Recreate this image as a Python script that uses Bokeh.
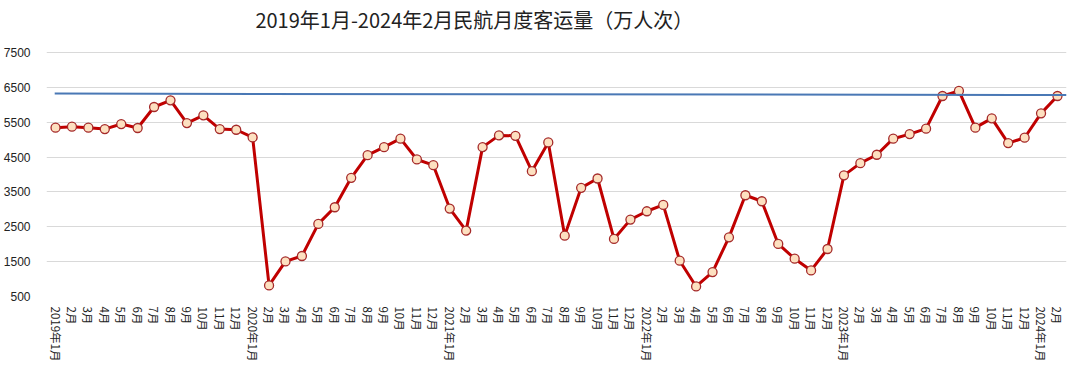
from bokeh.plotting import figure
from bokeh.models import FixedTicker, Range1d, Label, ColumnDataSource
from bokeh.embed import file_html
from bokeh.resources import INLINE

title_text = "2019年1月-2024年2月民航月度客运量（万人次）"

years = [2019, 2020, 2021, 2022, 2023, 2024]
months = []
for y in years:
    for m in range(1, 13):
        if y == 2024 and m > 2:
            break
        months.append("%d年%d月" % (y, m) if m == 1 else "%d月" % m)

passengers = [
    5343, 5372, 5343, 5303, 5447, 5334, 5936, 6128, 5475, 5697, 5303, 5284,
    5064, 817, 1507, 1662, 2582, 3060, 3905, 4555, 4785, 5027, 4431, 4267,
    3022, 2389, 4785, 5122, 5110, 4095, 4920, 2246, 3617, 3885, 2151, 2706,
    2945, 3128, 1527, 788, 1202, 2197, 3405, 3232, 2007, 1584, 1248, 1863,
    3975, 4326, 4566, 5027, 5159, 5314, 6252, 6396, 5343, 5610, 4900, 5055,
    5754, 6252,
]

ref_level_start = 6320
ref_level_end = 6280

y_ticks = [500, 1500, 2500, 3500, 4500, 5500, 6500, 7500]

idx = list(range(len(months)))
src = ColumnDataSource(dict(x=idx, y=passengers))

# frame extends above the top gridline so the title can sit inside it
p = figure(width=1072, height=368, output_backend="svg", toolbar_location=None,
           x_range=Range1d(-0.55, len(months) - 1 + 0.55),
           y_range=Range1d(500, 8934),
           min_border_left=44, min_border_right=6, min_border_top=2,
           min_border_bottom=72)
p.outline_line_color = None
p.background_fill_color = "white"
p.border_fill_color = "white"

p.add_layout(Label(x=25.5, y=8447, text=title_text, text_align="center",
                   text_baseline="middle", text_font="Noto Sans CJK SC",
                   text_font_size="20px", text_color="#222222"))

p.xgrid.grid_line_color = None
p.ygrid.grid_line_color = "#D9D9D9"
p.ygrid.grid_line_width = 1.2
p.yaxis.ticker = FixedTicker(ticks=y_ticks)
p.xaxis.ticker = FixedTicker(ticks=idx)
p.xaxis.major_label_overrides = {i: lab for i, lab in enumerate(months)}
p.xaxis.major_label_orientation = "vertical"
p.xaxis.major_label_text_font = "Noto Sans CJK SC"
p.xaxis.major_label_text_font_size = "11.5px"
p.xaxis.major_label_text_color = "#222222"
p.xaxis.major_label_standoff = 4
p.yaxis.major_label_text_font = "Liberation Sans"
p.yaxis.major_label_text_font_size = "12px"
p.yaxis.major_label_text_color = "#222222"
p.yaxis.major_label_standoff = 10
for ax in (p.xaxis, p.yaxis):
    ax.axis_line_color = None
    ax.major_tick_line_color = None
    ax.minor_tick_line_color = None

p.line("x", "y", source=src, line_color="#C00000", line_width=3)
p.scatter("x", "y", source=src, size=9, fill_color="#FDE0C0",
          line_color="#A52A2A", line_width=1.3)
p.line([-0.05, len(months) - 1 + 0.55], [ref_level_start, ref_level_end],
       line_color="#4A78B5", line_width=2)

open("out.html", "w").write(file_html(p, INLINE))
